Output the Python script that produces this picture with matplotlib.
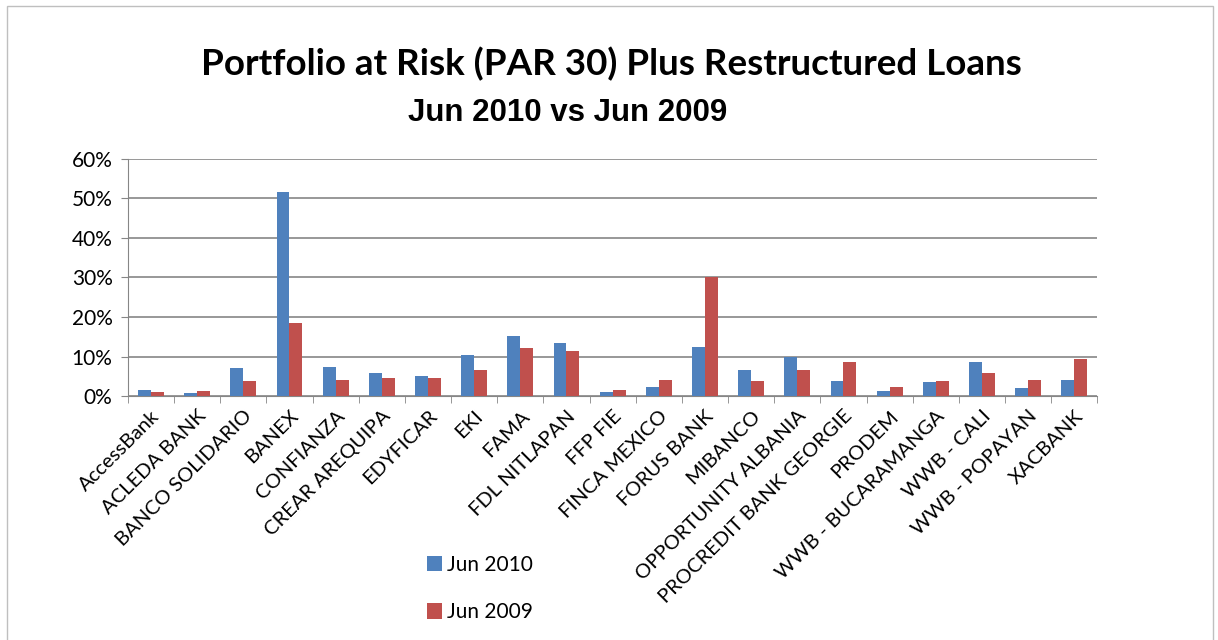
import numpy as np
import matplotlib.pyplot as plt
from matplotlib.ticker import PercentFormatter

banks = ['AccessBank', 'ACLEDA BANK', 'BANCO SOLIDARIO', 'BANEX', 'CONFIANZA',
         'CREAR AREQUIPA', 'EDYFICAR', 'EKI', 'FAMA', 'FDL NITLAPAN', 'FFP FIE',
         'FINCA MEXICO', 'FORUS BANK', 'MIBANCO', 'OPPORTUNITY ALBANIA',
         'PROCREDIT BANK GEORGIE', 'PRODEM', 'WWB - BUCARAMANGA', 'WWB - CALI',
         'WWB - POPAYAN', 'XACBANK']
jun_2010 = [1.5, 0.8, 7.0, 51.6, 7.3, 5.9, 5.2, 10.4, 15.2, 13.5, 1.1,
            2.4, 12.4, 6.6, 9.9, 3.9, 1.4, 3.5, 8.7, 2.1, 4.2]
jun_2009 = [1.1, 1.2, 3.9, 18.6, 4.2, 4.6, 4.6, 6.6, 12.1, 11.4, 1.5,
            4.2, 30.2, 3.9, 6.6, 8.7, 2.4, 3.9, 5.9, 4.2, 9.4]

blue = '#4F81BD'
red = '#C0504D'
font = 'Lato'

fig = plt.figure(figsize=(12.18, 6.4), dpi=100)
# light frame around the whole chart, like the Excel chart area
fig.patches.append(plt.Rectangle((0.006, -0.01), 0.99, 1.0, transform=fig.transFigure,
                                 fill=False, edgecolor='#bfbfbf', linewidth=1))
ax = fig.add_axes([0.105, 0.381, 0.796, 0.371])

x = np.arange(len(banks))
w = 0.28
b1 = ax.bar(x - w / 2, jun_2010, w, color=blue, label='Jun 2010', zorder=3)
b2 = ax.bar(x + w / 2, jun_2009, w, color=red, label='Jun 2009', zorder=3)

ax.set_xlim(-0.5, len(banks) - 0.5)
ax.set_ylim(0, 60)
ax.set_yticks(range(0, 61, 10))
ax.yaxis.set_major_formatter(PercentFormatter(decimals=0))
ax.yaxis.grid(True, color='#868686', linewidth=1.2, zorder=0)

ax.set_xticks(x)
ax.set_xticklabels(banks, rotation=45, ha='right', rotation_mode='anchor',
                   fontsize=14.5, family=font)
ax.set_xticks(np.arange(-0.5, len(banks)), minor=True)
ax.tick_params(axis='x', which='major', length=0, pad=8)
ax.tick_params(axis='x', which='minor', length=5, color='#868686')
ax.tick_params(axis='y', length=5, color='#868686', labelsize=15, pad=6)
for lab in ax.get_yticklabels():
    lab.set_family(font)

for side in ['top', 'right']:
    ax.spines[side].set_visible(False)
ax.spines['left'].set_color('#868686')
ax.spines['bottom'].set_color('#868686')

fig.text(0.502, 0.9, 'Portfolio at Risk (PAR 30) Plus Restructured Loans',
         ha='center', va='center', fontsize=26.5, fontweight='bold', family=font)
fig.text(0.466, 0.824, 'Jun 2010 vs Jun 2009', ha='center', va='center',
         fontsize=22.5, fontweight='bold', family='Liberation Sans')

fig.legend(handles=[b1, b2], loc='upper left', bbox_to_anchor=(0.335, 0.162),
           frameon=False, handlelength=0.75, handleheight=0.75, handletextpad=0.2,
           labelspacing=1.3, prop={'family': font, 'size': 15})

fig.savefig('out.png', dpi=100)
